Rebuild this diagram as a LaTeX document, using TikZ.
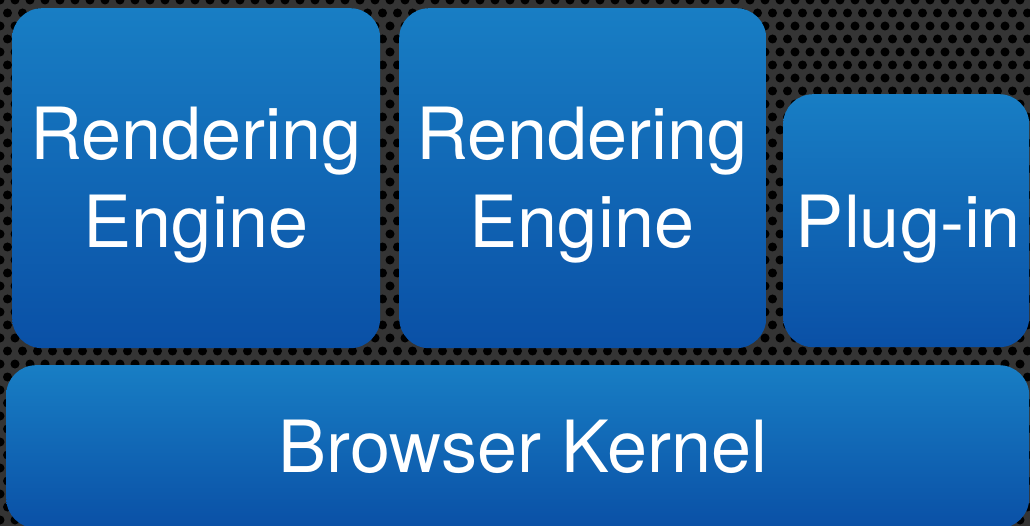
\documentclass[tikz,border=0pt]{standalone}
\usepackage{fontspec}
\setmainfont{TeX Gyre Heros}
\usetikzlibrary{positioning}
\definecolor{boxtop}{RGB}{24,126,196}
\definecolor{boxbot}{RGB}{10,80,166}
\definecolor{panel}{RGB}{52,52,52}
\begin{document}
\begin{tikzpicture}[x=1pt,y=-1pt,
  block/.style={rounded corners=30pt, top color=boxtop, bottom color=boxbot, inner sep=0pt, anchor=north west},
  lbl/.style={text=white, font=\fontsize{72}{88}\selectfont, anchor=base, inner sep=0pt}]
\useasboundingbox (0,0) rectangle (1030,526);
% perforated backdrop
\fill[panel] (0,0) rectangle (1030,526);
\foreach \r in {0,...,41}
  \foreach \c in {0,...,69}
    \fill[black] ({\c*15+mod(\r,2)*7.5},{\r*13}) circle (4.5pt);
% layers
\node[block, minimum width=368pt, minimum height=340pt] (eng1) at (12,8) {};
\node[block, minimum width=367pt, minimum height=340pt] (eng2) at (399,8) {};
\node[block, minimum width=246pt, minimum height=253pt] (plugin) at (783,94) {};
\node[block, minimum width=1023pt, minimum height=163pt] (kernel) at (6,365) {};
% labels
\node[lbl] (eng1a) at (196,160) {Rendering};
\node[lbl] (eng1b) at (196,248) {Engine};
\node[lbl] (eng2a) at (582,160) {Rendering};
\node[lbl] (eng2b) at (582,248) {Engine};
\node[lbl] (plug) at (908,248) {Plug-in};
\node[lbl] (kern) at (523,472) {Browser Kernel};
\end{tikzpicture}
\end{document}
